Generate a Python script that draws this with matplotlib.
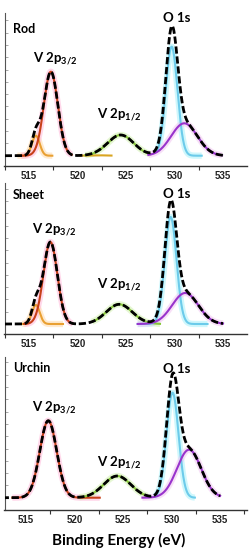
import numpy as np
import matplotlib
matplotlib.use("Agg")
import matplotlib.pyplot as plt
from matplotlib.ticker import MultipleLocator, FixedLocator

plt.rcParams['font.family'] = ['Lato', 'DejaVu Sans']
plt.rcParams['mathtext.fontset'] = 'custom'
plt.rcParams['mathtext.rm'] = 'Lato:bold'
plt.rcParams['mathtext.it'] = 'Lato:bold'
plt.rcParams['mathtext.bf'] = 'Lato:bold'

# ---------------- data ----------------
samples = ["Rod", "Sheet", "Urchin"]
x_ticks = [515, 520, 525, 530, 535]
x_label = "Binding Energy (eV)"
peak_names = ["V 2p$_{3/2}$", "V 2p$_{1/2}$", "O 1s"]

# fitted components: centre (eV), height (a.u.), sigma (eV), drawn range (eV)
rod_comp = ["V4+ 2p3/2", "V5+ 2p3/2", "V4+ 2p1/2", "V5+ 2p1/2", "O lattice", "O surface"]
rod_center = [515.7, 517.25, 522.0, 524.45, 529.7, 531.0]
rod_height = [20.0, 84.0, 0.4, 20.7, 109.0, 32.4]
rod_sigma = [0.40, 0.72, 1.0, 1.35, 0.60, 1.35]
rod_start = [513.8, 514.2, 520.3, 520.8, 528.2, 527.3]
rod_end = [517.4, 519.4, 523.5, 527.5, 532.8, 534.9]

sheet_comp = ["V4+ 2p3/2", "V5+ 2p3/2", "V5+ 2p1/2", "O lattice", "O surface"]
sheet_center = [515.7, 517.2, 524.3, 529.6, 531.1]
sheet_height = [19.0, 82.0, 19.7, 107.0, 31.0]
sheet_sigma = [0.40, 0.72, 1.35, 0.60, 1.35]
sheet_start = [514.3, 514.5, 521.5, 526.2, 526.2]
sheet_end = [518.5, 519.5, 528.5, 533.4, 535.0]

urchin_comp = ["V5+ 2p3/2", "V5+ 2p1/2", "O lattice", "O surface"]
urchin_center = [517.3, 524.4, 530.1, 531.8]
urchin_height = [77.0, 21.7, 105.0, 48.0]
urchin_sigma = [0.87, 1.40, 0.62, 1.25]
urchin_start = [513.6, 520.5, 528.2, 527.0]
urchin_end = [522.6, 527.5, 532.4, 535.0]

envelope_start = 512.5
envelope_end = 535.0

# label anchor positions (eV, a.u.) : sample name, V2p3/2, V2p1/2, O1s
rod_text_x = [513.35, 515.4, 522.0, 528.85]
rod_text_y = [122.4, 93.7, 37.7, 134.0]
sheet_text_x = [513.3, 515.35, 522.05, 528.85]
sheet_text_y = [124.7, 90.7, 35.7, 125.7]
urchin_text_x = [513.65, 515.65, 522.33, 529.1]
urchin_text_y = [126.0, 86.0, 31.7, 125.0]

# ---------------- style ----------------
colors = {
    "V4+ 2p3/2": ("#E9A032", "#FFD9A8"),
    "V5+ 2p3/2": ("#C8401A", "#FFB8DA"),
    "V4+ 2p1/2": ("#D9A521", None),
    "V5+ 2p1/2": ("#86C73A", "#D2F2B0"),
    "O lattice": ("#6CCBEA", "#A8F2FA"),
    "O surface": ("#9933CC", "#F2C6F2"),
}

panels = [
    (samples[0], rod_comp, rod_center, rod_height, rod_sigma, rod_start, rod_end, rod_text_x, rod_text_y),
    (samples[1], sheet_comp, sheet_center, sheet_height, sheet_sigma, sheet_start, sheet_end, sheet_text_x, sheet_text_y),
    (samples[2], urchin_comp, urchin_center, urchin_height, urchin_sigma, urchin_start, urchin_end, urchin_text_x, urchin_text_y),
]

W, H = 249, 550
fig = plt.figure(figsize=(W / 100, H / 100), dpi=100)
fig.patch.set_facecolor("white")

# axes boxes in pixels: (top, bottom)
boxes = [(13, 166), (183, 334), (357, 510)]
xlims = [(512.47, 537.47), (512.47, 537.47), (512.79, 537.77)]
ylims = [(-10.3, 142.7), (-10.0, 141.0), (-12.3, 140.7)]

def gauss(x, c, h, s):
    return h * np.exp(-0.5 * ((x - c) / s) ** 2)

axes = []
for i, (name, comp, cen, hei, sig, st, en, tx, ty) in enumerate(panels):
    top, bot = boxes[i]
    ax = fig.add_axes([4.5 / W, 1 - bot / H, 242.5 / W, (bot - top) / H])
    axes.append(ax)
    ax.set_xlim(*xlims[i])
    ax.set_ylim(*ylims[i])

    # components
    for k in range(len(comp)):
        xx = np.linspace(st[k], en[k], 300)
        yy = gauss(xx, cen[k], hei[k], sig[k])
        col, halo = colors[comp[k]]
        if halo is not None:
            ax.plot(xx, yy, color=halo, lw=4.5, alpha=0.55, solid_capstyle="butt", zorder=2)
        ax.plot(xx, yy, color=col, lw=1.5, zorder=3)

    # envelope
    xe = np.linspace(envelope_start, envelope_end, 800)
    ye = np.zeros_like(xe)
    for k in range(len(comp)):
        ye += gauss(xe, cen[k], hei[k], sig[k])
    ax.plot(xe, ye, color="black", lw=2.0, dashes=(2.6, 1.0), zorder=4)

    # texts
    ax.text(tx[0], ty[0], name, fontsize=9, fontweight="bold", ha="left", va="baseline")
    ax.text(tx[1], ty[1], peak_names[0], fontsize=9.5, fontweight="bold", ha="left", va="baseline")
    ax.text(tx[2], ty[2], peak_names[1], fontsize=9.5, fontweight="bold", ha="left", va="baseline")
    ax.text(tx[3], ty[3], peak_names[2], fontsize=9.5, fontweight="bold", ha="left", va="baseline")

    # spines / ticks
    for s in ["top", "right"]:
        ax.spines[s].set_visible(False)
    ax.spines["left"].set_color("#555555")
    ax.spines["left"].set_linewidth(0.8)
    ax.spines["bottom"].set_color("#333333")
    ax.spines["bottom"].set_linewidth(1.0)

    ax.xaxis.set_major_locator(FixedLocator(x_ticks))
    ax.xaxis.set_minor_locator(FixedLocator([t - 2.5 for t in x_ticks] + [x_ticks[-1] + 2.5]))
    ax.tick_params(axis="x", which="major", length=0, pad=3.5, labelsize=7,
                   labelcolor="#222222")
    ax.tick_params(axis="x", which="minor", length=3, width=0.8, color="#333333", direction="out")
    for lab in ax.get_xticklabels():
        lab.set_fontfamily(["Liberation Sans", "DejaVu Sans"])
        lab.set_fontweight("bold")

    ax.yaxis.set_major_locator(MultipleLocator(12.3))
    ax.tick_params(axis="y", which="major", length=2, width=0.6, color="#999999",
                   direction="in", labelleft=False)

axes[2].set_xlabel(x_label, fontsize=11, fontweight="bold", va="center")
axes[2].xaxis.set_label_coords((119 - 4.5) / 242.5, -30 / 153)

fig.savefig("out.png", dpi=100, facecolor="white")
